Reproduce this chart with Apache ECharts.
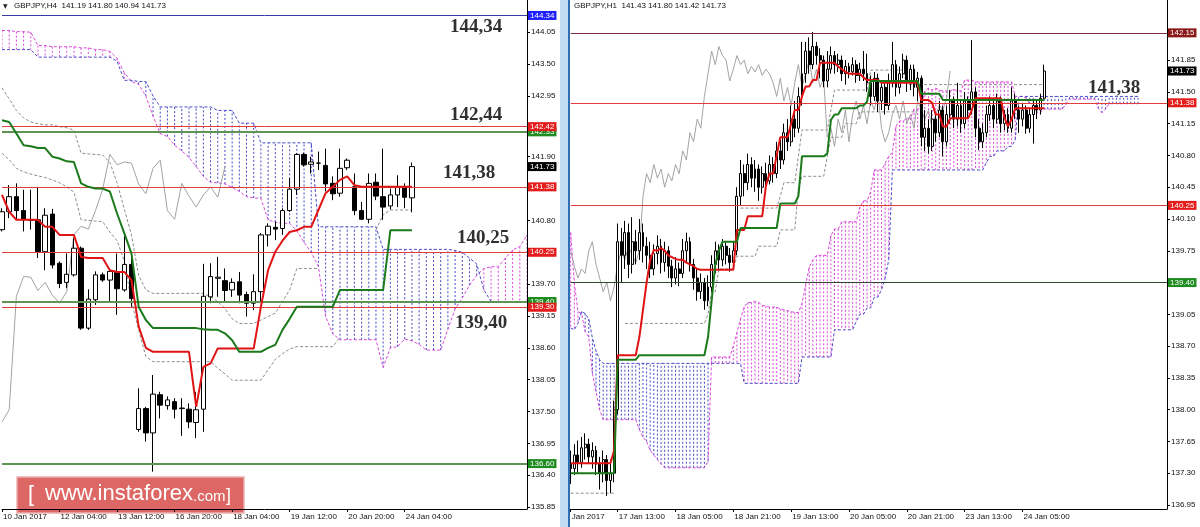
<!DOCTYPE html>
<html><head><meta charset="utf-8">
<script src="https://cdn.jsdelivr.net/npm/echarts/dist/echarts.min.js"></script>
<style>html,body{margin:0;padding:0;background:#fff}#c{width:1200px;height:527px}</style>
</head><body><div id="c"></div>
<script>
// ---------------- LEFT PANEL (GBPJPY H4) ----------------
// [open, close, low, high]
const candlesL = [
[140.64,140.95,140.61,141.01],[140.95,141.21,140.84,141.41],[141.21,140.97,140.81,141.44],[140.97,140.81,140.61,141.33],
[140.81,140.80,140.64,141.33],[140.81,140.26,140.15,141.38],[140.26,140.89,139.94,141.01],[140.91,140.03,139.97,141.00],
[140.06,139.71,139.63,140.09],[139.73,139.87,139.63,140.23],[139.86,140.32,139.83,140.49],[140.32,138.94,138.91,140.35],
[138.94,139.44,138.91,139.61],[139.43,139.86,139.34,139.92],[139.86,139.77,139.74,139.90],[139.77,139.92,139.40,139.94],
[139.90,139.62,139.17,140.23],[139.60,140.04,139.57,140.56],[140.04,139.45,139.31,140.23],[137.19,137.55,137.15,137.90],
[137.55,137.13,136.98,137.58],[137.13,137.80,136.46,138.13],[137.79,137.61,137.38,137.84],[137.60,137.70,137.53,137.76],
[137.67,137.54,137.38,137.73],[137.55,137.56,137.08,137.73],[137.54,137.32,137.21,137.64],[137.31,137.53,137.04,137.84],
[137.54,139.49,137.15,140.05],[139.48,139.83,139.37,140.06],[139.80,139.82,139.48,140.17],[139.76,139.59,139.40,139.97],
[139.60,139.73,139.48,139.80],[139.74,139.51,139.37,139.91],[139.52,139.37,139.14,139.57],[139.37,139.57,139.25,139.87],
[139.57,140.55,139.40,140.58],[140.55,140.70,140.35,140.75],[140.68,140.65,140.46,140.78],[140.66,140.97,140.55,141.01],
[140.97,141.34,140.95,141.53],[141.34,141.94,141.24,141.96],[141.94,141.76,141.73,141.97],[141.77,141.81,141.61,141.90],
[141.79,141.79,141.67,141.99],[141.75,141.43,141.30,142.04],[141.44,141.26,141.15,141.56],[141.27,141.70,141.21,142.04],
[141.71,141.84,141.67,141.87],[141.38,140.97,140.89,141.61],[140.97,140.82,140.81,141.12],[140.82,141.44,140.75,141.61],
[141.46,141.22,141.15,141.61],[141.21,141.03,140.81,142.04],[141.05,141.24,140.99,141.35],[141.24,141.38,141.03,141.58],
[141.38,141.20,141.01,141.44],[141.19,141.73,140.94,141.80]
];
const tenkanL = [141.24,140.95,140.81,140.81,140.81,140.81,140.69,140.69,140.55,140.55,140.55,140.17,140.15,140.15,140.15,139.94,
139.91,139.91,139.77,138.97,138.60,138.53,138.53,138.53,138.53,138.53,138.53,137.58,138.27,138.33,138.59,138.59,138.59,138.59,
138.59,138.59,139.31,139.94,140.26,140.45,140.60,140.63,140.69,140.69,140.98,141.27,141.38,141.50,141.56,141.41,141.38,141.38,
141.38,141.38,141.38,141.38,141.38,141.38];
const kijunL = [142.53,142.50,142.30,142.10,142.08,142.05,142.05,141.90,141.87,141.82,141.81,141.44,141.38,141.35,141.35,141.30,
140.92,140.58,140.23,139.31,139.08,138.94,138.94,138.94,138.94,138.94,138.94,138.94,138.92,138.91,138.91,138.85,138.73,138.53,
138.53,138.53,138.53,138.60,138.65,138.91,139.10,139.31,139.31,139.31,139.31,139.31,139.31,139.60,139.60,139.60,139.60,139.60,
139.60,139.60,140.63,140.63,140.63,140.63];
const spanAL = [144.08,144.08,144.06,144.06,144.05,143.82,143.82,143.80,143.80,143.80,143.80,143.78,143.78,143.75,143.75,143.72,
143.60,143.35,143.20,143.15,142.95,142.60,142.30,142.25,142.10,142.00,141.89,141.73,141.56,141.46,141.45,141.43,141.37,141.30,
141.21,141.19,141.18,140.81,140.77,140.75,140.75,140.62,140.42,140.25,140.00,139.14,138.84,138.74,138.74,138.74,138.74,138.74,
138.74,138.26,138.60,138.62,138.75,138.72,138.66,138.56,138.56,138.56,138.92,139.27,139.46,139.68,139.85,139.97,140.00,140.00,
140.15,140.29,140.35,140.55];
const spanBL = [143.75,143.75,143.75,143.75,143.75,143.62,143.62,143.62,143.62,143.62,143.62,143.62,143.62,143.62,143.62,143.62,
143.55,143.22,143.22,143.20,143.20,142.95,142.76,142.76,142.76,142.76,142.76,142.76,142.76,142.76,142.70,142.70,142.70,142.48,
142.48,142.48,142.14,142.14,142.14,142.14,142.14,142.14,142.14,142.14,140.69,140.69,140.69,140.69,140.69,140.69,140.69,140.69,
140.69,140.30,140.30,140.30,140.30,140.30,140.30,140.30,140.30,140.30,140.30,140.28,140.25,140.15,140.05,139.60,139.40,139.40,
139.40,139.40,139.40,139.40];
const grayUpL = [143.09,142.90,142.70,142.57,142.50,142.47,142.45,142.45,142.42,142.40,142.36,141.96,141.95,141.94,141.93,141.80,
141.45,141.00,140.55,139.85,139.60,139.54,139.54,139.54,139.54,139.54,139.54,139.54,139.54,139.48,139.40,139.28,139.10,139.02,
139.02,139.02,139.08,139.14,139.20,139.40,139.60,139.97,139.97,139.97,139.97];
const grayDnL = [141.96,141.85,141.70,141.64,141.60,141.57,141.54,141.50,141.45,141.38,141.29,140.81,140.80,140.79,140.78,140.60,
140.45,140.10,139.40,138.91,138.45,138.36,138.36,138.36,138.36,138.36,138.36,138.36,138.36,138.36,138.25,138.15,138.04,138.04,
138.04,138.04,138.04,138.22,138.40,138.50,138.58,138.62,138.62,138.62,138.62,138.62,138.62,138.79,null,null,null,null,
140.64,140.90,140.98,140.98,140.98,140.98];
const levelsL = [144.34,142.33,142.42,141.38,140.25,139.40,139.30,136.60,141.73];
const levelKindsL = ['blue','green','red','red','red','green','red','green','price'];
const yTicksL = [135.85,136.40,136.95,137.50,138.05,138.60,139.15,139.70,140.80,141.90,142.95,143.50,144.05];
const xTickLabelsL = ['10 Jan 2017','12 Jan 04:00','13 Jan 12:00','16 Jan 20:00','18 Jan 04:00','19 Jan 12:00','20 Jan 20:00','24 Jan 04:00'];
const xTickBarsL = [0,8,16,24,32,40,48,56];
const headerL = 'GBPJPY,H4  141.19 141.80 140.94 141.73';
const notesL = ['144,34','142,44','141,38','140,25','139,40'];

// ---------------- RIGHT PANEL (GBPJPY H1) ----------------
const candlesR = [
[137.40,137.35,137.18,137.55],[137.35,137.50,137.28,137.62],[137.50,137.42,137.30,137.66],[137.42,137.58,137.36,137.70],
[137.58,137.62,137.45,137.74],[137.62,137.48,137.40,137.68],[137.48,137.55,137.35,137.64],[137.55,137.40,137.28,137.60],
[137.40,137.30,137.12,137.48],[137.30,137.45,137.20,137.55],[137.45,137.22,137.05,137.50],[137.22,137.30,137.08,137.45],
[137.30,138.00,137.20,138.10],[138.00,139.85,137.95,140.05],[139.85,139.70,139.40,140.00],[139.70,139.95,139.55,140.08],
[139.95,139.60,139.45,140.05],[139.60,139.85,139.50,140.12],[139.85,139.75,139.60,139.98],[139.75,139.95,139.65,140.10],
[139.95,139.80,139.62,140.05],[139.80,139.70,139.55,139.90],[139.70,139.55,139.45,139.85],[139.55,139.72,139.48,139.82],
[139.72,139.80,139.60,139.92],[139.80,139.62,139.50,139.88],[139.62,139.75,139.52,139.85],[139.75,139.58,139.45,139.80],
[139.58,139.45,139.35,139.65],[139.45,139.55,139.38,139.68],[139.55,139.50,139.36,139.62],[139.50,139.75,139.45,139.88],
[139.75,139.85,139.62,139.95],[139.85,139.60,139.52,139.90],[139.60,139.45,139.32,139.66],[139.45,139.30,139.20,139.55],
[139.30,139.40,139.22,139.50],[139.40,139.20,139.10,139.45],[139.20,139.35,139.14,139.48],[139.35,139.60,139.30,139.70],
[139.60,139.75,139.50,139.85],[139.75,139.65,139.55,139.82],[139.65,139.80,139.58,139.88],[139.80,139.70,139.60,139.85],
[139.70,139.62,139.52,139.78],[139.62,139.75,139.55,139.85],[139.75,140.35,139.70,140.45],[140.35,140.60,140.25,140.75],
[140.60,140.50,140.35,140.70],[140.50,140.70,140.42,140.82],[140.70,140.55,140.45,140.78],[140.55,140.65,140.40,140.75],
[140.65,140.45,140.30,140.70],[140.45,140.60,140.38,140.68],[140.60,140.52,140.42,140.72],[140.52,140.70,140.48,140.80],
[140.70,140.60,140.50,140.78],[140.60,140.85,140.55,140.95],[140.85,140.75,140.65,140.98],[140.75,141.05,140.70,141.15],
[141.05,140.95,140.85,141.20],[140.95,141.20,140.90,141.35],[141.20,141.10,141.00,141.40],[141.10,141.45,141.05,141.55],
[141.45,141.70,141.35,142.05],[141.70,141.95,141.60,142.05],[141.95,141.80,141.70,142.10],[141.80,142.00,141.75,142.16],
[142.00,141.90,141.80,142.05],[141.90,141.85,141.65,141.98],[141.85,141.62,141.55,141.90],[141.62,141.75,141.55,141.95],
[141.75,141.90,141.70,142.00],[141.90,141.80,141.70,141.95],[141.80,141.85,141.72,141.92],[141.85,141.70,141.62,141.90],
[141.70,141.78,141.58,141.85],[141.78,141.72,141.65,141.82],[141.72,141.80,141.68,141.88],[141.80,141.68,141.60,141.85],
[141.68,141.75,141.62,141.82],[141.75,141.70,141.62,141.95],[141.70,141.60,141.50,141.92],[141.60,141.45,141.35,141.68],
[141.45,141.65,141.40,141.72],[141.65,141.40,141.28,141.70],[141.40,141.55,141.30,141.62],[141.55,141.35,141.25,141.60],
[141.35,141.60,141.30,141.70],[141.60,141.80,141.55,142.05],[141.80,141.55,141.45,141.85],[141.55,141.70,141.48,141.78],
[141.70,141.85,141.65,141.92],[141.85,141.60,141.50,141.90],[141.60,141.75,141.52,141.80],[141.75,141.55,141.45,141.80],
[141.55,141.65,141.40,141.72],[141.65,141.00,140.90,141.68],[141.00,141.10,140.85,141.30],[141.10,140.90,140.82,141.20],
[140.90,141.20,140.85,141.30],[141.20,141.05,140.95,141.28],[141.05,141.30,141.00,141.40],[141.30,140.95,140.79,141.35],
[140.95,141.25,140.90,141.35],[141.25,141.40,141.15,141.52],[141.40,141.20,141.10,141.45],[141.20,141.35,141.12,141.60],
[141.35,141.15,141.05,141.40],[141.15,141.40,141.10,141.50],[141.40,141.30,141.20,141.45],[141.30,141.50,141.25,142.07],
[141.50,141.10,141.00,141.55],[141.10,140.95,140.86,141.20],[140.95,141.05,140.88,141.15],[141.05,141.25,141.00,141.35],
[141.25,141.35,141.18,141.45],[141.35,141.20,141.10,141.40],[141.20,141.40,141.15,141.48],[141.40,141.15,141.05,141.45],
[141.15,141.25,141.08,141.30],[141.25,141.10,141.05,141.32],[141.10,141.40,141.05,141.55],[141.40,141.30,141.20,141.48],
[141.30,141.20,141.05,141.35],[141.20,141.30,141.12,141.38],[141.30,141.10,141.04,141.35],[141.10,141.25,141.05,141.32],
[141.25,141.35,140.93,141.40],[141.35,141.30,141.20,141.42],[141.30,141.43,141.25,141.48],[141.43,141.73,141.42,141.80]
];
const tenkanR = [137.41,137.41,137.41,137.41,137.41,137.41,137.41,137.41,137.41,137.41,137.41,137.41,137.55,
138.60,138.60,138.60,138.60,138.60,138.60,138.80,139.10,139.40,139.65,139.76,
139.75,139.78,139.75,139.70,139.68,139.66,139.65,139.65,139.62,139.60,139.58,139.55,
139.54,139.54,139.54,139.54,139.54,139.54,139.54,139.54,139.54,139.54,
139.98,139.98,139.98,140.13,140.13,140.13,140.13,140.13,140.46,140.60,140.60,140.80,
141.00,141.00,141.00,141.15,141.30,141.30,141.45,141.56,141.56,141.63,141.63,
141.82,141.82,141.82,141.82,141.82,141.78,141.75,141.72,141.70,141.70,141.70,141.70,141.66,
141.63,141.63,141.63,141.63,141.60,141.60,141.60,141.60,141.60,141.60,141.60,141.60,141.60,141.60,141.60,
141.41,141.41,141.41,141.38,141.25,141.25,141.12,141.12,141.21,141.21,141.21,141.21,141.21,141.21,141.30,
141.43,141.43,141.43,141.43,141.43,141.43,141.43,141.43,141.22,141.12,141.20,
141.32,141.32,141.32,141.32,141.32,141.32,141.32,141.32,141.32];
const kijunR = [137.30,137.30,137.30,137.30,137.30,137.30,137.30,137.30,137.30,137.30,137.30,137.30,137.30,
138.55,138.55,138.55,138.55,138.55,138.55,
138.60,138.60,138.60,138.60,138.60,138.60,138.60,138.60,138.60,138.60,138.60,138.60,138.60,138.60,138.60,138.60,138.60,138.60,138.60,
138.80,139.20,139.60,139.75,139.85,139.85,139.85,139.85,139.85,
140.00,140.00,140.00,140.00,140.00,140.00,140.00,140.00,140.00,140.00,140.00,
140.27,140.27,140.27,140.27,140.27,140.35,140.79,140.79,140.79,140.79,140.79,140.79,140.79,140.82,
141.19,141.25,141.25,141.32,141.32,141.32,141.32,141.32,141.35,141.35,141.39,
141.62,141.62,141.62,141.62,141.62,141.62,141.62,141.62,141.62,141.62,141.62,141.62,141.62,141.62,
141.48,141.48,141.48,141.48,141.48,141.48,
141.41,141.41,141.41,141.41,141.41,141.41,141.41,141.41,141.41,141.41,141.41,141.41,141.41,141.41,141.41,
141.41,141.41,141.41,141.41,141.41,141.41,141.41,141.41,141.41,141.41,141.41,141.41,141.41,141.41];
const spanAR = [139.95,139.40,139.08,139.06,138.86,138.80,138.40,138.20,138.00,
137.89,137.89,137.89,137.89,137.89,137.89,137.89,137.89,137.89,137.89,
137.78,137.70,137.65,137.55,137.50,137.45,137.40,
137.36,137.36,137.36,137.36,137.36,137.36,137.36,137.36,137.36,137.36,137.36,137.36,
137.43,138.58,138.58,138.58,138.58,138.58,138.58,
138.70,138.85,139.00,139.13,139.18,139.18,139.19,139.18,139.15,139.14,139.13,139.13,139.13,139.11,139.10,139.09,139.08,139.07,139.07,
139.17,139.37,139.57,139.65,139.70,139.70,139.70,139.70,139.92,139.99,139.99,
140.07,140.07,140.07,140.07,140.07,140.23,140.30,140.30,140.40,140.64,140.64,140.64,
140.71,140.79,140.83,141.12,141.18,141.18,141.21,141.21,141.31,141.31,
141.32,141.51,141.54,141.52,141.54,141.52,141.51,141.51,141.51,141.53,141.51,141.51,
141.63,141.63,141.63,141.61,141.61,141.61,141.61,141.61,141.61,141.61,141.61,141.61,141.61,141.61,
141.45,141.45,141.45,141.43,141.37,141.37,141.27,141.27,
141.31,141.31,141.31,141.31,141.31,141.31,141.36,
141.42,141.42,141.42,141.42,141.42,141.42,141.42,141.42,141.32,141.27,141.31,
141.37,141.37,141.37,141.37,141.37,141.37,141.37,141.37,141.37];
const spanBR = [138.90,138.88,138.95,139.08,139.06,139.00,138.79,138.65,138.55,
138.51,138.51,138.51,138.51,138.51,138.51,138.51,138.51,138.51,138.51,138.51,138.51,138.51,138.51,138.51,138.51,138.51,
138.51,138.51,138.51,138.51,138.51,138.51,138.51,138.51,138.51,138.51,138.51,138.51,138.51,138.51,138.51,138.51,138.51,
138.51,138.51,138.51,138.51,138.51,
138.29,138.29,138.29,138.29,138.29,138.29,138.29,138.29,138.29,138.29,138.29,138.29,138.29,138.29,138.29,138.29,
138.58,138.58,138.58,138.58,138.58,138.58,138.58,138.58,138.58,
138.88,138.88,138.88,138.88,138.88,138.88,
138.97,139.05,139.05,139.12,139.12,139.24,139.24,139.32,139.45,139.65,
140.64,140.64,140.64,140.64,140.64,140.64,140.64,140.64,140.64,140.64,140.64,140.64,140.64,
140.64,140.64,140.64,140.64,140.64,140.64,140.64,140.64,140.64,140.64,140.64,140.64,140.64,
140.72,140.79,140.79,140.85,140.85,140.85,140.90,140.90,140.97,
141.45,141.45,141.45,141.45,141.45,141.45,141.45,141.45,141.45,141.45,141.45,141.45,141.45,141.45,141.45,141.45,141.45,
141.45,141.45,141.45,141.45,141.45,141.45,141.45,141.45,141.45,141.45,141.45,141.45,141.45,141.45,141.45,141.45,141.45];
const grayUpR = [null,null,null,null,null,null,null,null,null,null,null,null,null,null,null,null,null,null,null,null,
null,null,null,null,null,null,null,null,null,null,null,null,null,null,null,null,null,null,null,null,null,null,null,null,null,null,null,
140.22,140.22,140.22,140.22,140.22,140.22,140.22,140.22,140.22,140.22,140.22,140.35,140.50,140.50,140.50,140.50,140.79,
141.08,141.08,141.08,141.08,141.08,141.08,141.08,141.08,141.30,
141.52,141.52,141.52,141.52,141.52,141.52,141.52,141.52,141.52,141.52,
141.74,141.74,141.74,141.74,141.74,141.74,141.74,141.74,141.74,141.74,
141.58,141.58,141.58,141.58,141.58,141.58,141.58,141.58,141.58,141.58,141.58,141.58,141.58,141.58,141.58,141.58,141.58,141.58,141.58,141.58,
141.58,141.58,141.58,141.58,141.58,141.58,141.58,141.58,141.58,141.58,141.58,141.58,141.58,141.58,141.58,141.58,141.58,141.58,141.58];
const grayDnR = [137.08,137.08,137.08,137.08,137.08,137.08,137.08,137.08,137.08,137.08,137.08,137.08,137.08,null,null,
138.95,138.95,138.95,138.95,138.95,138.95,138.95,138.95,138.95,138.95,138.95,138.95,138.95,138.95,138.95,138.95,138.95,138.95,138.95,
138.95,138.95,138.95,138.95,139.05,139.30,139.30,139.55,139.55,139.55,139.55,139.55,
139.69,139.69,139.69,139.69,139.69,139.69,139.80,139.80,139.80,139.80,139.80,139.80,139.98,139.98,139.98,139.98,139.98,
140.44,140.57,140.57,140.57,140.57,140.57,140.57,140.57,140.79,141.00,141.00,141.00,141.00,141.15,141.15,141.15,141.15,
141.28,141.28,141.28,141.28,141.28,141.28,141.28,141.28,141.28,141.28,141.28,141.28,141.28,141.28,141.28,141.28,141.28];
const levelsR = [142.15,141.38,140.25,139.40,141.73];
const levelKindsR = ['maroon','red','red','darkgreen','price'];
const yTicksR = [136.95,137.30,137.65,138.00,138.35,138.70,139.05,139.75,140.10,140.45,140.80,141.15,141.50,141.85];
const xTickLabelsR = ['Jan 2017','17 Jan 13:00','18 Jan 05:00','18 Jan 21:00','19 Jan 13:00','20 Jan 05:00','20 Jan 21:00','23 Jan 13:00','24 Jan 05:00'];
const xTickBarsR = [0,13,29,45,61,77,93,109,125];
const headerR = 'GBPJPY,H1  141.43 141.80 141.42 141.73';
const notesR = ['141,38'];

// ---------------- styles ----------------
const SLOTS_L = 74, SLOTS_R = 166, SHIFT = 26;
const COL = {kumoUp:'#d94ad9', kumoDown:'#4848c8', tenkan:'#e01414', kijun:'#1b7a1b', chikou:'#a3a3a3', gray:'#8c8c8c'};
const KIND = {
  blue:{line:'#3a3aa6', box:'#1f1fff', text:'#fff', w:1},
  red:{line:'#e23c3c', box:'#e41c1c', text:'#fff', w:1},
  green:{line:'#5f9455', box:'#1e8c1e', text:'#fff', w:2},
  darkgreen:{line:'#2f4a2f', box:'#1e8c1e', text:'#fff', w:1},
  maroon:{line:'#7d2b45', box:'#8a1818', text:'#fff', w:1},
  price:{line:'rgba(0,0,0,0)', box:'#000', text:'#fff', w:1}
};
const FONT = 'Liberation Sans';

function cats(n){ const a=[]; for(let i=0;i<n;i++) a.push(String(i)); return a; }
function labelMap(bars, labels){ const m={}; bars.forEach((b,k)=>{ m[b]=labels[k]; }); return m; }
const mapL = labelMap(xTickBarsL, xTickLabelsL), mapR = labelMap(xTickBarsR, xTickLabelsR);

function xAxis(gi, n, map){
  return {type:'category', gridIndex:gi, data:cats(n), boundaryGap:false,
    axisLine:{lineStyle:{color:'#000', width:1}},
    axisTick:{show:true, length:3, lineStyle:{color:'#000'}, interval:(i)=>map[i]!==undefined},
    axisLabel:{show:true, interval:(i)=>map[i]!==undefined, formatter:(v,i)=>map[i]||'', align:'left',
      color:'#111', fontSize:8, fontFamily:FONT, margin:4, padding:[0,0,0,1]},
    splitLine:{show:false}};
}
function yAxis(gi, min, max, ticks){
  return {type:'value', gridIndex:gi, position:'right', min:min, max:max, scale:true,
    axisLine:{show:true, lineStyle:{color:'#000', width:1}},
    axisTick:{show:true, length:3, customValues:ticks, lineStyle:{color:'#000'}},
    axisLabel:{show:true, customValues:ticks, formatter:(v)=>Number(v).toFixed(2), color:'#111', fontSize:8, fontFamily:FONT, margin:4},
    splitLine:{show:false}};
}
function hatch(params, api){
  const i = api.value(0), a = api.value(1), b = api.value(2);
  if (isNaN(a) || isNaN(b)) return;
  const pa = api.coord([i, a]), pb = api.coord([i, b]);
  return {type:'line', silent:true, shape:{x1:pa[0], y1:pa[1], x2:pb[0], y2:pb[1]},
    style:{stroke: a >= b ? COL.kumoUp : COL.kumoDown, lineWidth:1, lineDash:[2,2]}};
}
function panelSeries(gi, candles, tenkan, kijun, spanA, spanB, gUp, gDn, levels, kinds, barW){
  const closes = candles.map(c=>c[1]);
  const cloud = spanA.map((a,i)=>[i, a, spanB[i]]);
  const line = (data, color, width, dash, z)=>({type:'line', xAxisIndex:gi, yAxisIndex:gi, data:data, symbol:'none', showSymbol:false,
    connectNulls:false, silent:true, z:z, lineStyle:{color:color, width:width, type:dash||'solid'}});
  return [
    {type:'custom', xAxisIndex:gi, yAxisIndex:gi, data:cloud, renderItem:hatch, z:1, silent:true, clip:true,
      encode:{x:0, y:[1,2]}},
    line(spanA, COL.kumoUp, 1, [3,2], 2),
    line(spanB, COL.kumoDown, 1, [3,2], 2),
    line(gUp, COL.gray, 1, [3,2], 2),
    line(gDn, COL.gray, 1, [3,2], 2),
    line(closes.slice(SHIFT), COL.chikou, 1, 'solid', 3),
    {type:'line', xAxisIndex:gi, yAxisIndex:gi, data:[], symbol:'none', z:3, silent:true,
      markLine:{symbol:['none','none'], silent:true, animation:false,
        data: levels.map((v,k)=>{ const s = KIND[kinds[k]]; return {yAxis:v,
          lineStyle:{color:s.line, width:s.w, type:'solid'},
          label:{show:true, position:'end', distance:1, formatter:v.toFixed(2), color:s.text, backgroundColor:s.box,
            padding:[1,2,0,2], fontSize:8, lineHeight:8, fontFamily:FONT}}; })}},
    {type:'candlestick', xAxisIndex:gi, yAxisIndex:gi, data:candles, barWidth:barW, z:4, silent:true,
      itemStyle:{color:'#fff', color0:'#000', borderColor:'#000', borderColor0:'#000', borderWidth:1}},
    line(tenkan, COL.tenkan, 2, 'solid', 5),
    line(kijun, COL.kijun, 2, 'solid', 5)
  ];
}

const serif = {fontFamily:'Liberation Serif', fontWeight:'bold', fontSize:19, fill:'#303030', verticalAlign:'middle', align:'left'};
const notePosL = [[450,27],[450,115],[443,173],[457,238],[455,323]];
const notePosR = [[1088,88]];
const graphics = [];
notesL.forEach((t,k)=>graphics.push({type:'text', x:notePosL[k][0], y:notePosL[k][1], z:50,
  style:Object.assign({text:t}, serif)}));
notesR.forEach((t,k)=>graphics.push({type:'text', x:notePosR[k][0], y:notePosR[k][1], z:50,
  style:Object.assign({text:t}, serif)}));
graphics.push({type:'text', x:3, y:6, z:50, style:{text:'\u25BC', fontSize:6, fontFamily:'DejaVu Sans', fill:'#222', verticalAlign:'middle'}});
graphics.push({type:'text', x:14, y:6, z:50, style:{text:headerL, fontSize:8, fontFamily:FONT, fill:'#111', verticalAlign:'middle'}});
graphics.push({type:'text', x:574, y:6, z:50, style:{text:headerR, fontSize:8, fontFamily:FONT, fill:'#111', verticalAlign:'middle'}});
graphics.push({type:'rect', z:40, shape:{x:560, y:0, width:8, height:527}, style:{fill:'#c3dbf3'}});
graphics.push({type:'rect', z:40, shape:{x:568, y:0, width:2, height:527}, style:{fill:'#2f6db5'}});
graphics.push({type:'group', z:60, children:[
  {type:'rect', shape:{x:17, y:477, width:227, height:36}, style:{fill:'rgba(214,78,74,0.86)', stroke:'#eab0ad', lineWidth:1.5}},
  {type:'text', x:28, y:495, style:{text:'[', fontSize:22, fontFamily:FONT, fill:'#fff', verticalAlign:'middle'}},
  {type:'text', x:45, y:494, style:{text:'www.instaforex', fontSize:22, fontFamily:FONT, fill:'#fff', verticalAlign:'middle'}},
  {type:'text', x:193, y:497, style:{text:'.com', fontSize:15, fontFamily:FONT, fill:'#fff', verticalAlign:'middle'}},
  {type:'text', x:226, y:496, style:{text:']', fontSize:18, fontFamily:FONT, fill:'#fff', verticalAlign:'middle'}}
]});

const chart = echarts.init(document.getElementById('c'), null, {renderer:'canvas'});
chart.setOption({
  animation:false, backgroundColor:'#fff', textStyle:{fontFamily:FONT},
  grid:[{left:0, top:0, width:527, height:509}, {left:570.7, top:0, width:596.3, height:509}],
  xAxis:[xAxis(0, SLOTS_L, mapL), xAxis(1, SLOTS_R, mapR)],
  yAxis:[yAxis(0, 135.816, 144.607, yTicksL), yAxis(1, 136.906, 142.512, yTicksR)],
  series:[].concat(
    panelSeries(0, candlesL, tenkanL, kijunL, spanAL, spanBL, grayUpL, grayDnL, levelsL, levelKindsL, 5),
    panelSeries(1, candlesR, tenkanR, kijunR, spanAR, spanBR, grayUpR, grayDnR, levelsR, levelKindsR, 2.4)
  ),
  graphic:graphics
});
</script></body></html>
